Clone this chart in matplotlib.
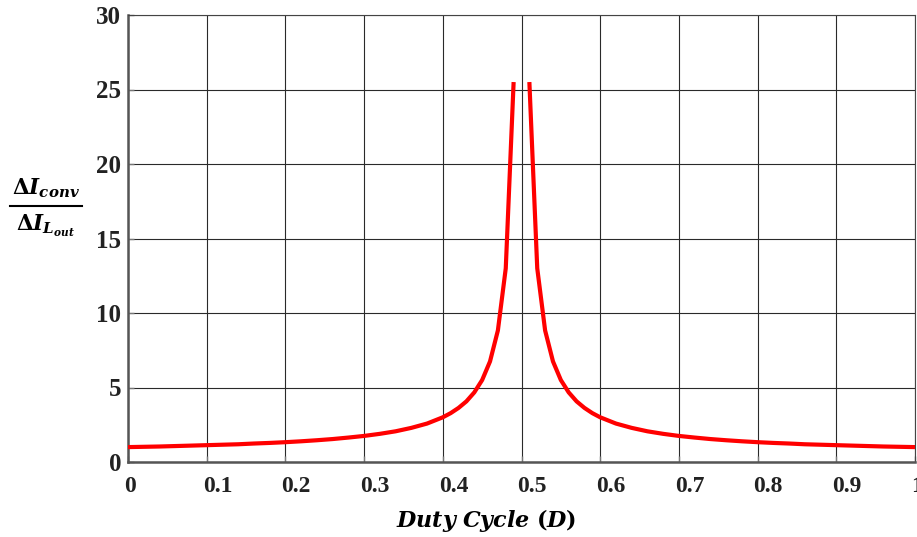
import matplotlib
matplotlib.use("Agg")
import matplotlib.pyplot as plt
from matplotlib.lines import Line2D
from matplotlib.transforms import ScaledTranslation

# Current ripple ratio versus duty cycle (left and right branches of the curve)
duty_left = [0.00, 0.02, 0.04, 0.06, 0.08, 0.10, 0.12, 0.14, 0.16, 0.18,
             0.20, 0.22, 0.24, 0.26, 0.28, 0.30, 0.32, 0.34, 0.36, 0.38,
             0.40, 0.41, 0.42, 0.43, 0.44, 0.45, 0.46, 0.47, 0.48, 0.49]
ratio_left = [1.00, 1.02, 1.04, 1.07, 1.10, 1.13, 1.16, 1.19, 1.24, 1.28,
              1.33, 1.39, 1.46, 1.54, 1.64, 1.75, 1.89, 2.06, 2.29, 2.58,
              3.00, 3.28, 3.63, 4.07, 4.67, 5.50, 6.75, 8.83, 13.0, 25.5]

duty_right = [0.51, 0.52, 0.53, 0.54, 0.55, 0.56, 0.57, 0.58, 0.59, 0.60,
              0.62, 0.64, 0.66, 0.68, 0.70, 0.72, 0.74, 0.76, 0.78, 0.80,
              0.82, 0.84, 0.86, 0.88, 0.90, 0.92, 0.94, 0.96, 0.98, 1.00]
ratio_right = [25.5, 13.0, 8.83, 6.75, 5.50, 4.67, 4.07, 3.63, 3.28, 3.00,
               2.58, 2.29, 2.06, 1.89, 1.75, 1.64, 1.54, 1.46, 1.39, 1.33,
               1.28, 1.24, 1.19, 1.16, 1.13, 1.10, 1.07, 1.04, 1.02, 1.00]

x_ticks = [0, 0.1, 0.2, 0.3, 0.4, 0.5, 0.6, 0.7, 0.8, 0.9, 1]
x_tick_labels = ["0", "0.1", "0.2", "0.3", "0.4", "0.5", "0.6", "0.7", "0.8", "0.9", "1"]
y_ticks = [0, 5, 10, 15, 20, 25, 30]

plt.rcParams["mathtext.fontset"] = "dejavuserif"

W, H = 917, 537
fig = plt.figure(figsize=(W / 100, H / 100), dpi=100)
ax = fig.add_axes([128 / W, 75 / H, (915 - 128) / W, (462 - 15) / H])

for xs, ys in ((duty_left, ratio_left), (duty_right, ratio_right)):
    ax.plot(xs, ys, color="#ff0000", lw=3.0, solid_capstyle="butt",
            solid_joinstyle="miter", zorder=3)

ax.set_xlim(0, 1)
ax.set_ylim(0, 30)
ax.set_xticks(x_ticks)
ax.set_xticklabels(x_tick_labels)
ax.set_yticks(y_ticks)

ax.grid(True, color="#2a2a2a", lw=0.8)
ax.set_axisbelow(True)

for side in ("left", "bottom"):
    ax.spines[side].set_color("#555555")
    ax.spines[side].set_linewidth(1.8)
for side in ("top", "right"):
    ax.spines[side].set_color("#444444")
    ax.spines[side].set_linewidth(0.8)

ax.tick_params(axis="both", direction="in", length=4, color="#777777", width=1)
ax.tick_params(axis="x", pad=10)
ax.tick_params(axis="y", pad=5)

# x tick labels start just left of their tick
shift = ScaledTranslation(-4 / 100, 0, fig.dpi_scale_trans)
for lab in ax.get_xticklabels():
    lab.set_fontfamily("Liberation Serif")
    lab.set_fontweight("bold")
    lab.set_fontsize(17)
    lab.set_color("#222222")
    lab.set_horizontalalignment("left")
    lab.set_transform(lab.get_transform() + shift)
for lab in ax.get_yticklabels():
    lab.set_fontfamily("Liberation Serif")
    lab.set_fontweight("bold")
    lab.set_fontsize(18)
    lab.set_color("#222222")

# x-axis title
fig.text(486 / W, 1 - 520 / H,
         r"$\mathbfit{Duty\ Cycle}\ \mathbf{(}\mathbfit{D}\mathbf{)}$",
         fontsize=16, ha="center", va="center", color="black")

# y-axis title as a stacked fraction
fig.text(46 / W, 1 - 188 / H,
         r"$\mathbf{\Delta}\mathbfit{I}_{\mathbfit{conv}}$",
         fontsize=15.5, ha="center", va="center", color="black")
fig.add_artist(Line2D([10 / W, 82 / W], [1 - 206 / H, 1 - 206 / H],
                      transform=fig.transFigure, color="black", lw=1.5))
fig.text(46 / W, 1 - 226 / H,
         r"$\mathbf{\Delta}\mathbfit{I}_{\mathbfit{L}_{\mathbfit{out}}}$",
         fontsize=15.5, ha="center", va="center", color="black")

fig.savefig("out.png", dpi=100)
